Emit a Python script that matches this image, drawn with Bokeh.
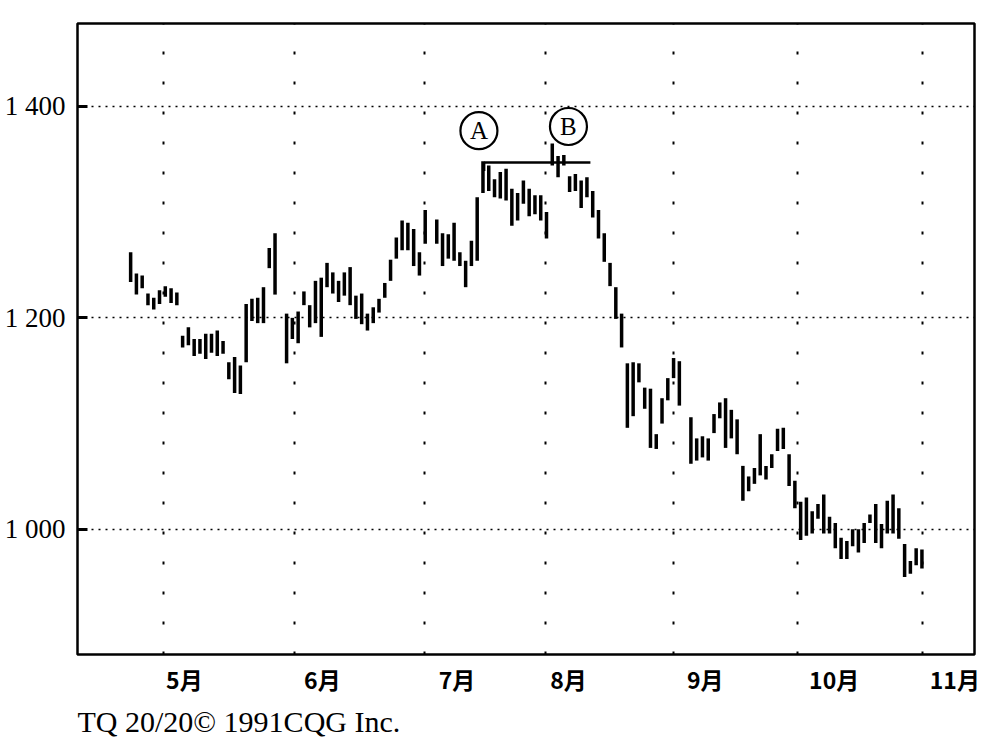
from bokeh.plotting import figure
from bokeh.models import Range1d, FixedTicker, Title, ColumnDataSource
from bokeh.core.properties import value
from bokeh.embed import file_html
from bokeh.resources import INLINE

# daily bars, trading-day index (holiday slots left empty)
holiday_gaps = [26, 52, 96]
days = [i for i in range(138) if i not in holiday_gaps]

high = [1262, 1242, 1240, 1223, 1219, 1226, 1230, 1228, 1224, 1183,
        1191, 1180, 1180, 1185, 1185, 1188, 1178, 1158, 1163, 1155,
        1213, 1218, 1219, 1229, 1266, 1280,
        1204, 1200, 1206, 1225, 1212, 1235, 1238, 1252, 1243, 1235,
        1243, 1248, 1221, 1223, 1204, 1210, 1218, 1233, 1255, 1276,
        1292, 1290, 1284, 1262, 1302,
        1293, 1280, 1279, 1290, 1262, 1254, 1273, 1314, 1348, 1344,
        1331, 1338, 1341, 1322, 1318, 1330, 1322, 1316, 1316, 1300,
        1365, 1353, 1354, 1334, 1336, 1330, 1333, 1320, 1302, 1280,
        1252, 1229, 1204, 1157, 1158, 1157, 1134, 1133, 1090, 1124,
        1143, 1162, 1159,
        1106, 1086, 1088, 1086, 1109, 1120, 1124, 1113, 1104, 1060,
        1050, 1058, 1090, 1060, 1071, 1095, 1096, 1071, 1046, 1026,
        1030, 1017, 1024, 1033, 1012, 1006, 992, 989, 1000, 1000,
        1006, 1014, 1024, 1005, 1027, 1033, 1020, 986, 970, 982, 981]

low = [1234, 1222, 1228, 1212, 1208, 1213, 1220, 1214, 1212, 1172,
       1174, 1164, 1166, 1161, 1167, 1164, 1166, 1142, 1129, 1128,
       1158, 1197, 1195, 1195, 1247, 1222,
       1157, 1180, 1176, 1212, 1191, 1195, 1182, 1229, 1223, 1215,
       1221, 1212, 1199, 1194, 1188, 1195, 1205, 1219, 1235, 1256,
       1264, 1264, 1249, 1240, 1270,
       1270, 1249, 1256, 1254, 1249, 1229, 1249, 1254, 1318, 1320,
       1314, 1313, 1311, 1287, 1292, 1308, 1296, 1298, 1292, 1275,
       1344, 1333, 1344, 1319, 1320, 1304, 1314, 1295, 1275, 1253,
       1230, 1199, 1172, 1096, 1107, 1139, 1114, 1077, 1076, 1100,
       1122, 1143, 1117,
       1062, 1065, 1068, 1065, 1091, 1105, 1077, 1086, 1071, 1027,
       1036, 1043, 1051, 1047, 1058, 1074, 1076, 1041, 1020, 990,
       994, 996, 1010, 996, 996, 982, 972, 972, 984, 978,
       987, 1006, 987, 982, 996, 996, 991, 955, 958, 966, 963]

month_start = [5.7, 28.4, 50.9, 71.8, 94.0, 115.5, 137.1]
month_label_pos = [9.3, 33.2, 56.5, 75.8, 99.5, 121.8, 142.7]
month_labels = ["5月", "6月", "7月", "8月", "9月", "10月", "11月"]

price_ticks = [1000, 1200, 1400]
price_labels = ["1 000", "1 200", "1 400"]

# double top marks
mark_labels = ["A", "B"]
mark_x = [60.3, 75.8]
mark_y = [1377, 1381]
top_line_x = [61.2, 79.6]
top_level = 1347
top_tick_low = 1339

p = figure(width=982, height=742, output_backend="svg", toolbar_location=None,
           x_range=Range1d(-9.2, 146.1), y_range=Range1d(881.6, 1478.4),
           min_border_left=77, min_border_right=8, min_border_top=23, min_border_bottom=30)
p.background_fill_color = "white"
p.border_fill_color = "white"
p.outline_line_color = "black"
p.outline_line_width = 2.5
p.outline_line_alpha = 1.0

src = ColumnDataSource(dict(x=days, high=high, low=low))
p.segment(x0="x", y0="low", x1="x", y1="high", source=src, line_color="black", line_width=3.5)

# resistance line across the two tops
p.segment(x0=[top_line_x[0], top_line_x[0]], y0=[top_level, top_level],
          x1=[top_line_x[1], top_line_x[0]], y1=[top_level, top_tick_low],
          line_color="black", line_width=2.5)

p.scatter(mark_x, mark_y, marker="circle", size=37, fill_color="white",
          line_color="black", line_width=2.2)
p.text(mark_x, mark_y, text=mark_labels, text_align="center", text_baseline="middle",
       text_font=value("Liberation Serif"), text_font_size="25px", text_color="black")

# axes
p.yaxis.ticker = FixedTicker(ticks=price_ticks)
p.yaxis.major_label_overrides = dict(zip(price_ticks, price_labels))
p.yaxis.major_label_text_font = "Liberation Serif"
p.yaxis.major_label_text_font_size = "27px"
p.yaxis.major_label_text_color = "black"
p.yaxis.major_label_standoff = 12
p.yaxis.major_tick_in = 10
p.yaxis.major_tick_out = 0
p.yaxis.major_tick_line_width = 3
p.yaxis.major_tick_line_color = "black"
p.yaxis.minor_tick_line_color = None
p.yaxis.axis_line_color = None

p.xaxis.ticker = FixedTicker(ticks=month_label_pos)
p.xaxis.major_label_overrides = dict(zip(month_label_pos, month_labels))
p.xaxis.major_label_text_font = "Noto Sans CJK SC"
p.xaxis.major_label_text_font_size = "23px"
p.xaxis.major_label_text_font_style = "bold"
p.xaxis.major_label_text_color = "black"
p.xaxis.major_label_standoff = 1
p.xaxis.major_tick_line_color = None
p.xaxis.minor_tick_line_color = None
p.xaxis.axis_line_color = None

p.ygrid.ticker = FixedTicker(ticks=price_ticks)
p.ygrid.grid_line_color = "black"
p.ygrid.grid_line_width = 1.5
p.ygrid.grid_line_dash = "2 5"
p.xgrid.ticker = FixedTicker(ticks=month_start)
p.xgrid.grid_line_color = "black"
p.xgrid.grid_line_width = 2
p.xgrid.grid_line_dash = "3 27"

p.add_layout(Title(text="TQ 20/20© 1991CQG Inc.", align="left", text_font="Liberation Serif",
                   text_font_size="30px", text_font_style="normal", text_color="black",
                   standoff=9), "below")

open("out.html", "w").write(file_html(p, INLINE))
